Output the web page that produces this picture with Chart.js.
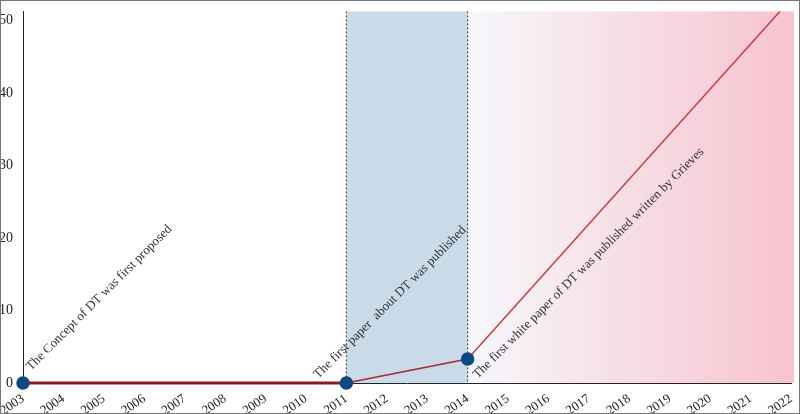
<!DOCTYPE html>
<html><head><script src="https://cdn.jsdelivr.net/npm/chart.js@4"></script>
<style>body{margin:0;background:#fff}#w{width:798px;height:412px;border:1px solid #777}</style></head>
<body><div id="w"><canvas id="c"></canvas></div>
<script>
const years=[2003,2011,2014,2022];
const values=[0,0,3.3,53];
const yTicks=[0,10,20,30,40,50];
const notes=[
 {x:2003,y:0,text:'The Concept of DT was first proposed',dx:8,dy:-12},
 {x:2011,y:0,text:'The first paper  about DT was published',dx:-28,dy:-4},
 {x:2014,y:3.3,text:'The first white paper of DT was published written by Grieves',dx:10,dy:20}];
const F='"Liberation Serif","DejaVu Serif",serif';
const bg={id:'bg',beforeDatasetsDraw(ch){const{ctx,chartArea:a,scales:{x,y}}=ch;
 const x1=x.getPixelForValue(2011),x2=x.getPixelForValue(2014),x3=a.right+3;
 ctx.save();ctx.fillStyle='#c9dbe8';ctx.fillRect(x1,a.top,x2-x1,a.bottom-a.top);
 const g=ctx.createLinearGradient(x2,0,x3,0);g.addColorStop(0,'#f6f8fc');g.addColorStop(1,'#f7c3cf');
 ctx.fillStyle=g;ctx.fillRect(x2,a.top,x3-x2,a.bottom-a.top);
 ctx.strokeStyle='#333';ctx.setLineDash([2,2]);ctx.lineWidth=1;
 [x1,x2].forEach(p=>{ctx.beginPath();ctx.moveTo(p,a.top);ctx.lineTo(p,a.bottom);ctx.stroke();});
 ctx.restore();},
 afterDatasetsDraw(ch){const{ctx,scales:{x,y}}=ch;ctx.save();ctx.font='13px '+F;ctx.fillStyle='#333';
 notes.forEach(n=>{ctx.save();ctx.translate(x.getPixelForValue(n.x)+n.dx,y.getPixelForValue(n.y)+n.dy);ctx.rotate(-Math.PI/4);ctx.fillText(n.text,0,0);ctx.restore();});ctx.restore();}};
new Chart(document.getElementById('c'),{type:'line',
 data:{datasets:[{data:years.map((v,i)=>({x:v,y:values[i]})),borderColor:'#c8323a',borderWidth:1.5,
 segment:{borderColor:c=>c.p0DataIndex===0?'#8b1a1a':(c.p0DataIndex===1?'#a82830':'#d03a40'),borderWidth:c=>c.p0DataIndex===0?3:1.5},
 pointRadius:c=>c.dataIndex<3?6:0,pointBackgroundColor:'#0b4a80',pointBorderColor:'#0b4a80',clip:{left:false,right:0,top:0,bottom:false}}]},
 plugins:[bg],
 options:{responsive:true,maintainAspectRatio:false,animation:false,
 layout:{padding:{top:2,right:8,left:0,bottom:0}},
 plugins:{legend:{display:false},tooltip:{enabled:false}},
 scales:{x:{type:'linear',min:2003,max:2022,grid:{display:false},border:{color:'#222'},
 afterFit:s=>{s.height=30;s.paddingRight=0;},
 ticks:{stepSize:1,autoSkip:false,minRotation:35,maxRotation:35,padding:0,color:'#222',font:{family:F,size:13},callback:v=>String(v)}},
 y:{min:0,max:51.3,grid:{display:false},border:{color:'#222'},afterBuildTicks:s=>{s.ticks=yTicks.map(v=>({value:v}));},
 afterFit:s=>{s.width=22;},
 ticks:{color:'#222',font:{family:F,size:14},padding:2}}}}});
</script></body></html>
